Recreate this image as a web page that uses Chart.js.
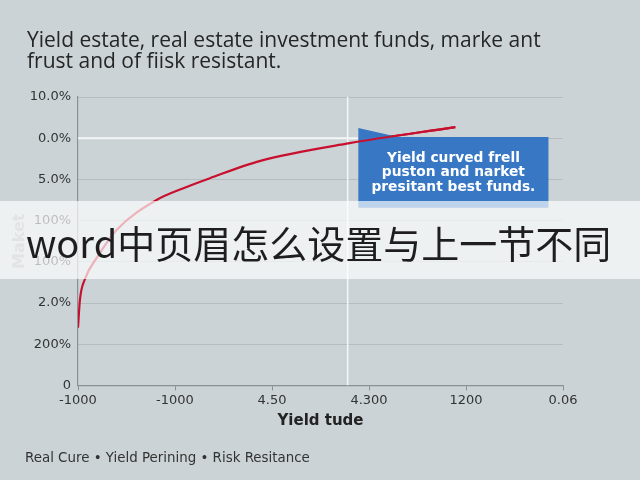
<!DOCTYPE html>
<html>
<head>
<meta charset="utf-8">
<script src="https://cdn.jsdelivr.net/npm/chart.js@4/dist/chart.umd.min.js"></script>
<style>
  html, body { margin: 0; padding: 0; background: #cbd3d6; }
  #wrap { position: relative; width: 640px; height: 480px; overflow: hidden; }
  #title {
    position: absolute; left: 27px; top: 29px;
    font-family: "Open Sans", sans-serif; font-size: 21px; line-height: 21px; color: #262626;
  }
  #band {
    position: absolute; left: 0; top: 201px; width: 640px; height: 78px;
    background: rgba(255, 255, 255, 0.68);
    font-family: "Noto Sans CJK SC", sans-serif; font-size: 38px; color: #1e1e1e;
    line-height: 78px; padding-left: 26px; padding-top: 2px; box-sizing: border-box; white-space: nowrap;
  }
  #legend {
    position: absolute; left: 25px; top: 450px;
    font-family: "DejaVu Sans", sans-serif; font-size: 13.4px; line-height: 16px; color: #333;
  }
</style>
</head>
<body>
<div id="wrap">
  <canvas id="yieldChart" width="640" height="480"></canvas>
  <div id="title">Yield estate, real estate investment funds, marke ant<br>frust and of fiisk resistant.</div>
  <div id="band">word中页眉怎么设置与上一节不同</div>
  <div id="legend">Real Cure • Yield Perining • Risk Resitance</div>
</div>
<script>
// Data
const xTickLabels = ["-1000", "-1000", "4.50", "4.300", "1200", "0.06"];
const yTickLabels = ["0", "200%", "2.0%", "100%", "100%", "5.0%", "0.0%", "10.0%"];
const curveX = [0, 0.02, 0.07, 0.2, 0.4, 0.81, 1.08, 1.36, 1.88, 2.8, 3.89];
const curveY = [1.4, 2.08, 2.57, 3.12, 3.78, 4.5, 4.78, 5.03, 5.45, 5.88, 6.27];
const markerX = [2.78, 2.78];
const markerY = [0, 7];
const refLineX = [0, 2.89];
const refLineY = [6, 6];
const noteLines = ["Yield curved frell", "puston and narket", "presitant best funds."];

function toPoints(xs, ys) {
    return xs.map((x, i) => ({ x: x, y: ys[i] }));
}

// annotation box, placed in data units
const noteBox = {
    id: "noteBox",
    afterDatasetsDraw(chart) {
        const ctx = chart.ctx;
        const xs = chart.scales.x, ys = chart.scales.y;
        const l = xs.getPixelForValue(2.89), r = xs.getPixelForValue(4.85);
        const t = ys.getPixelForValue(6.03), b = ys.getPixelForValue(4.31);
        const tip = ys.getPixelForValue(6.25);
        ctx.save();
        ctx.fillStyle = "#3777c4";
        ctx.beginPath();
        ctx.moveTo(l, tip);
        ctx.lineTo(xs.getPixelForValue(3.3), t);
        ctx.lineTo(r, t);
        ctx.lineTo(r, b);
        ctx.lineTo(l, b);
        ctx.closePath();
        ctx.fill();
        ctx.fillStyle = "#ffffff";
        ctx.font = "bold 13.8px 'DejaVu Sans', sans-serif";
        ctx.textAlign = "center";
        ctx.textBaseline = "middle";
        const cx = (l + r) / 2;
        noteLines.forEach((s, i) => ctx.fillText(s, cx, t + 21 + i * 14.5));
        ctx.restore();
        // redraw the curve over the box
        ctx.save();
        ctx.beginPath();
        ctx.rect(l, tip - 5, r - l, b - tip + 5);
        ctx.clip();
        chart.getDatasetMeta(0).dataset.draw(ctx, chart.chartArea);
        ctx.restore();
    }
};

new Chart(document.getElementById("yieldChart"), {
    type: "line",
    data: {
        datasets: [
            {
                label: "Real Cure",
                data: toPoints(curveX, curveY),
                borderColor: "#c8102e",
                borderWidth: 2.2,
                pointRadius: 0,
                cubicInterpolationMode: "monotone",
                fill: false,
            },
            {
                label: "marker",
                data: toPoints(markerX, markerY),
                borderColor: "#f4f6f7",
                borderWidth: 1.5,
                pointRadius: 0,
            },
            {
                label: "ref",
                data: toPoints(refLineX, refLineY),
                borderColor: "#f4f6f7",
                borderWidth: 2,
                pointRadius: 0,
            },
        ],
    },
    options: {
        responsive: false,
        animation: false,
        layout: { padding: { left: 0, right: 77, top: 97, bottom: 50 } },
        plugins: {
            legend: { display: false },
            tooltip: { enabled: false },
        },
        scales: {
            x: {
                type: "linear",
                min: 0,
                max: 5,
                ticks: {
                    stepSize: 1,
                    color: "#333",
                    font: { family: "'DejaVu Sans', sans-serif", size: 13 },
                    padding: 2,
                    callback: (v) => xTickLabels[v],
                },
                grid: { drawOnChartArea: false, color: "#8a9195", tickLength: 5 },
                border: { color: "#8a9195", width: 1.2 },
                title: {
                    display: true,
                    text: "Yield tude",
                    color: "#222",
                    font: { family: "'DejaVu Sans', sans-serif", size: 15, weight: "bold" },
                    padding: { top: 2, bottom: 0 },
                },
            },
            y: {
                type: "linear",
                min: 0,
                max: 7,
                afterFit: (axis) => { axis.width = 78; },
                ticks: {
                    stepSize: 1,
                    color: "#333",
                    font: { family: "'DejaVu Sans', sans-serif", size: 13 },
                    padding: 7,
                    callback: (v) => yTickLabels[v],
                },
                grid: { color: "#b5bdc1", drawTicks: false },
                border: { color: "#8a9195", width: 1.2 },
                title: {
                    display: true,
                    text: "Maket",
                    color: "#a3a9ad",
                    font: { family: "'DejaVu Sans', sans-serif", size: 16, weight: "bold" },
                    padding: { top: 10, bottom: 0 },
                },
            },
        },
    },
    plugins: [noteBox],
});
</script>
</body>
</html>
